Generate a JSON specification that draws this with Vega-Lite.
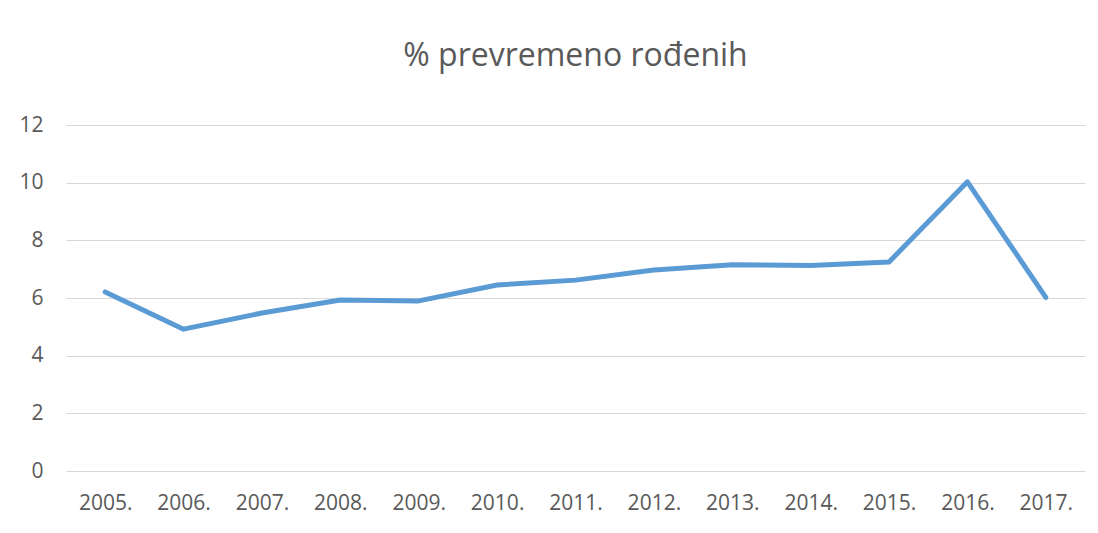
{
  "$schema": "https://vega.github.io/schema/vega-lite/v6.json",
  "autosize": "none",
  "width": 1019,
  "height": 346,
  "padding": {"left": 66, "top": 125, "right": 13, "bottom": 62},
  "background": "white",
  "title": {
    "text": "% prevremeno rođenih",
    "fontSize": 32,
    "font": "Open Sans",
    "fontWeight": "normal",
    "color": "#595959",
    "anchor": "middle",
    "baseline": "alphabetic",
    "offset": 16
  },
  "data": {
    "values": [
      {"year": "2005.", "value": 6.21},
      {"year": "2006.", "value": 4.92},
      {"year": "2007.", "value": 5.48},
      {"year": "2008.", "value": 5.93},
      {"year": "2009.", "value": 5.9},
      {"year": "2010.", "value": 6.45},
      {"year": "2011.", "value": 6.62},
      {"year": "2012.", "value": 6.97},
      {"year": "2013.", "value": 7.15},
      {"year": "2014.", "value": 7.13},
      {"year": "2015.", "value": 7.25},
      {"year": "2016.", "value": 10.03},
      {"year": "2017.", "value": 6.02}
    ]
  },
  "mark": {"type": "line", "color": "#5B9BD5", "strokeWidth": 5, "strokeCap": "round", "strokeJoin": "round"},
  "encoding": {
    "x": {
      "field": "year",
      "type": "ordinal",
      "scale": {"type": "point", "padding": 0.5},
      "axis": {"title": null, "labelAngle": 0, "domain": false, "ticks": false, "labelPadding": 21, "labelFontSize": 21, "labelFont": "Open Sans", "labelColor": "#595959", "grid": false}
    },
    "y": {
      "field": "value",
      "type": "quantitative",
      "scale": {"domain": [0, 12]},
      "axis": {"title": null, "values": [0, 2, 4, 6, 8, 10, 12], "domain": false, "ticks": false, "labelPadding": 23, "labelFontSize": 21, "labelFont": "Open Sans", "labelColor": "#595959", "gridColor": "#D9D9D9", "gridWidth": 1.2}
    }
  },
  "config": {"view": {"stroke": null}}
}
